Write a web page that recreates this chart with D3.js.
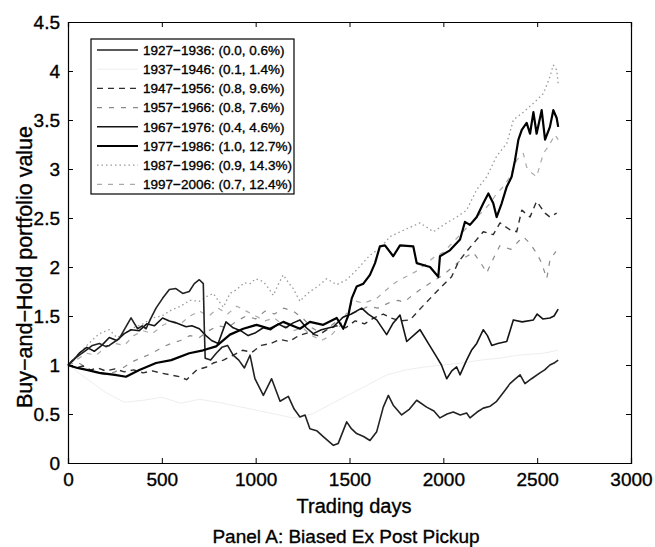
<!DOCTYPE html>
<html><head><meta charset="utf-8">
<script src="https://cdn.jsdelivr.net/npm/d3@7"></script>
<style>
html,body{margin:0;padding:0;background:#fff;}
text{font-family:"Liberation Sans",Arial,Helvetica,sans-serif;fill:#000;stroke:#000;stroke-width:0.35px;}
</style></head>
<body><svg id="c" width="655" height="547"></svg>
<script>
// ---- data (day, portfolio value) ----
const xTicks = [0,500,1000,1500,2000,2500,3000];
const yTicks = [0,0.5,1,1.5,2,2.5,3,3.5,4,4.5];
const yTickLabels = ["0","0.5","1","1.5","2","2.5","3","3.5","4","4.5"];
const legendLabels = [
 "1927\u22121936: (0.0, 0.6%)","1937\u22121946: (0.1, 1.4%)","1947\u22121956: (0.8, 9.6%)",
 "1957\u22121966: (0.8, 7.6%)","1967\u22121976: (0.4, 4.6%)","1977\u22121986: (1.0, 12.7%)",
 "1987\u22121996: (0.9, 14.3%)","1997\u22122006: (0.7, 12.4%)"];

const s1927 = [[0,1.0],[25,1.05],[60,1.10],[96,1.15],[130,1.20],[167,1.22],[200,1.19],[220,1.20],[250,1.24],[273,1.27],[300,1.36],[336,1.48],[355,1.42],[371,1.37],[395,1.40],[416,1.37],[440,1.47],[469,1.58],[504,1.68],[540,1.77],[575,1.78],[611,1.73],[646,1.75],[673,1.83],[700,1.87],[721,1.83],[726,1.40],[731,1.07],[760,1.05],[790,1.12],[820,1.18],[850,1.20],[880,1.10],[910,1.05],[940,0.97],[970,1.10],[996,0.86],[1041,0.69],[1085,0.86],[1130,0.63],[1174,0.68],[1205,0.55],[1236,0.47],[1263,0.49],[1289,0.35],[1325,0.33],[1360,0.27],[1414,0.18],[1440,0.20],[1485,0.42],[1510,0.35],[1538,0.30],[1575,0.27],[1609,0.23],[1645,0.32],[1680,0.57],[1707,0.69],[1733,0.59],[1778,0.49],[1820,0.55],[1858,0.64],[1911,0.57],[1950,0.53],[1982,0.46],[2020,0.50],[2053,0.52],[2090,0.49],[2124,0.51],[2142,0.46],[2180,0.52],[2213,0.56],[2250,0.58],[2284,0.63],[2320,0.72],[2355,0.81],[2385,0.86],[2409,0.90],[2435,0.81],[2470,0.86],[2515,0.92],[2540,0.95],[2568,1.0],[2590,1.02],[2612,1.05]];

const s1937 = [[0,1.0],[100,0.86],[200,0.72],[300,0.62],[400,0.64],[500,0.67],[600,0.61],[700,0.65],[800,0.62],[900,0.58],[1000,0.54],[1100,0.50],[1200,0.46],[1300,0.50],[1400,0.60],[1500,0.70],[1600,0.80],[1700,0.90],[1800,0.95],[1900,0.98],[2000,1.00],[2100,1.02],[2200,1.05],[2300,1.07],[2400,1.10],[2533,1.12],[2612,1.15]];

const s1947 = [[0,1.0],[40,0.97],[80,0.99],[120,0.95],[160,0.97],[200,0.94],[250,0.96],[300,0.93],[350,0.95],[400,0.92],[450,0.94],[490,0.92],[543,0.90],[597,0.88],[632,0.85],[686,0.95],[739,0.98],[774,1.02],[828,1.05],[881,1.10],[930,1.15],[980,1.13],[1030,1.20],[1080,1.22],[1130,1.26],[1180,1.24],[1230,1.30],[1280,1.33],[1330,1.30],[1380,1.36],[1430,1.40],[1480,1.38],[1530,1.45],[1580,1.42],[1630,1.48],[1680,1.52],[1720,1.48],[1770,1.45],[1823,1.46],[1870,1.56],[1930,1.68],[1990,1.80],[2044,1.90],[2080,2.05],[2124,2.16],[2160,2.24],[2213,2.36],[2266,2.33],[2302,2.45],[2355,2.38],[2391,2.36],[2418,2.58],[2462,2.51],[2497,2.67],[2542,2.55],[2568,2.51],[2604,2.55]];

const s1957 = [[0,1.0],[50,1.03],[100,0.97],[150,0.92],[200,0.90],[250,0.93],[300,0.98],[350,1.04],[400,1.08],[450,1.12],[500,1.18],[550,1.22],[600,1.25],[650,1.30],[700,1.28],[750,1.35],[800,1.40],[850,1.38],[900,1.45],[950,1.50],[1000,1.47],[1050,1.55],[1100,1.52],[1150,1.58],[1200,1.55],[1250,1.48],[1300,1.38],[1350,1.32],[1400,1.40],[1450,1.47],[1500,1.52],[1550,1.55],[1600,1.60],[1650,1.58],[1716,1.64],[1760,1.66],[1790,1.64],[1840,1.72],[1900,1.80],[1950,1.86],[2000,1.92],[2050,2.00],[2100,2.08],[2160,2.15],[2213,2.00],[2231,1.94],[2270,2.10],[2302,2.22],[2360,2.18],[2400,2.26],[2426,2.31],[2462,2.24],[2497,2.14],[2524,2.04],[2551,1.88],[2568,2.07],[2600,2.16]];

const s1967 = [[0,1.0],[30,1.05],[60,1.12],[100,1.18],[140,1.14],[180,1.20],[220,1.28],[260,1.25],[300,1.32],[336,1.36],[380,1.35],[420,1.42],[460,1.40],[504,1.48],[540,1.45],[575,1.43],[629,1.39],[660,1.40],[700,1.37],[735,1.30],[765,1.25],[800,1.22],[842,1.44],[880,1.38],[920,1.35],[960,1.30],[1000,1.33],[1040,1.38],[1080,1.36],[1120,1.42],[1160,1.38],[1200,1.43],[1236,1.46],[1270,1.38],[1307,1.32],[1350,1.36],[1414,1.39],[1467,1.49],[1510,1.52],[1565,1.58],[1600,1.52],[1645,1.46],[1698,1.31],[1730,1.42],[1769,1.51],[1805,1.24],[1840,1.30],[1876,1.36],[1920,1.22],[1965,1.08],[1990,1.00],[2018,0.86],[2045,0.94],[2071,0.98],[2089,0.90],[2124,1.05],[2150,1.15],[2178,1.22],[2213,1.36],[2235,1.30],[2258,1.20],[2290,1.22],[2338,1.24],[2373,1.46],[2420,1.44],[2480,1.46],[2500,1.52],[2530,1.47],[2568,1.48],[2590,1.50],[2612,1.57]];

const s1977 = [[0,1.0],[50,0.97],[100,0.95],[167,0.92],[250,0.90],[309,0.88],[380,0.95],[469,1.02],[550,1.05],[646,1.12],[720,1.15],[789,1.19],[863,1.31],[934,1.37],[1005,1.41],[1076,1.37],[1147,1.44],[1236,1.37],[1289,1.44],[1360,1.41],[1432,1.48],[1467,1.37],[1494,1.51],[1512,1.68],[1538,1.80],[1574,1.83],[1609,1.92],[1636,2.04],[1662,2.21],[1689,2.22],[1733,2.11],[1769,2.22],[1840,2.21],[1858,2.04],[1929,2.00],[1973,1.90],[1982,2.11],[2035,2.17],[2089,2.28],[2115,2.46],[2142,2.43],[2178,2.51],[2213,2.65],[2240,2.75],[2266,2.65],[2284,2.51],[2311,2.65],[2338,2.82],[2364,2.92],[2382,3.09],[2400,3.30],[2418,3.40],[2444,3.47],[2462,3.36],[2480,3.58],[2497,3.36],[2524,3.60],[2542,3.30],[2568,3.43],[2586,3.60],[2604,3.52],[2612,3.43]];

const s1987 = [[0,1.0],[40,1.08],[100,1.20],[167,1.32],[220,1.36],[260,1.28],[300,1.32],[350,1.38],[400,1.42],[450,1.48],[500,1.50],[550,1.56],[600,1.60],[650,1.66],[700,1.65],[740,1.70],[774,1.73],[800,1.66],[828,1.59],[863,1.73],[899,1.77],[940,1.84],[970,1.83],[1000,1.88],[1041,1.85],[1070,1.78],[1094,1.71],[1120,1.82],[1147,1.92],[1175,1.84],[1200,1.78],[1236,1.65],[1260,1.70],[1289,1.75],[1330,1.80],[1378,1.88],[1432,1.82],[1485,1.87],[1538,1.97],[1575,2.05],[1609,2.12],[1662,2.19],[1716,2.31],[1760,2.35],[1805,2.39],[1876,2.45],[1947,2.36],[2018,2.45],[2071,2.51],[2124,2.58],[2178,2.79],[2231,2.92],[2284,3.13],[2338,3.26],[2373,3.50],[2426,3.58],[2480,3.67],[2533,3.77],[2568,3.94],[2586,4.06],[2604,4.01],[2612,3.87]];

const s1997 = [[0,1.0],[50,1.06],[100,1.12],[150,1.10],[200,1.18],[250,1.22],[300,1.20],[350,1.30],[400,1.35],[450,1.32],[500,1.40],[550,1.45],[600,1.42],[650,1.50],[700,1.55],[750,1.50],[800,1.58],[850,1.52],[900,1.60],[950,1.55],[1000,1.50],[1050,1.45],[1100,1.48],[1150,1.40],[1200,1.35],[1250,1.38],[1300,1.30],[1350,1.25],[1400,1.30],[1450,1.40],[1520,1.66],[1574,1.63],[1645,1.68],[1716,1.80],[1751,1.85],[1800,1.90],[1850,1.95],[1900,2.02],[1950,2.10],[2000,2.15],[2050,2.25],[2100,2.35],[2150,2.45],[2200,2.55],[2250,2.65],[2284,2.75],[2320,2.82],[2355,2.92],[2391,3.09],[2426,3.16],[2444,3.02],[2471,2.96],[2497,2.92],[2533,3.16],[2560,3.23],[2595,3.35],[2612,3.30]];

const seriesData = [s1927,s1937,s1947,s1957,s1967,s1977,s1987,s1997];

// ---- styles ----
const styles = [
 {c:"#222222", w:1.6, d:null},
 {c:"#eeeeee", w:1.0, d:null},
 {c:"#2e2e2e", w:1.4, d:"6,5"},
 {c:"#8a8a8a", w:1.2, d:"5,7"},
 {c:"#151515", w:1.6, d:null},
 {c:"#000000", w:2.2, d:null},
 {c:"#9a9a9a", w:1.3, d:"1.5,3"},
 {c:"#aaaaaa", w:1.2, d:"5,6"}
];

const svg = d3.select("#c");
svg.append("rect").attr("width",655).attr("height",547).attr("fill","#fff");
const L=68, R=631, T=22, B=463;
const x = d3.scaleLinear().domain([0,3000]).range([L,R]);
const y = d3.scaleLinear().domain([0,4.5]).range([B,T]);

const line = d3.line().x(d=>x(d[0])).y(d=>y(d[1]));
const order = [1,7,3,6,2,4,0,5];
const g = svg.append("g");
order.forEach(i=>{
  g.append("path").datum(seriesData[i]).attr("d",line)
   .attr("fill","none").attr("stroke",styles[i].c).attr("stroke-width",styles[i].w)
   .attr("stroke-dasharray",styles[i].d).attr("stroke-linejoin","round");
});

// axes (box with inward ticks)
const fs = 19;
const ax = d3.axisBottom(x).tickValues(xTicks).tickSize(-5).tickPadding(10).tickFormat(d3.format("d"));
svg.append("g").attr("transform",`translate(0,${B})`).call(ax);
const axT = d3.axisTop(x).tickValues(xTicks).tickSize(-5).tickFormat("");
svg.append("g").attr("transform",`translate(0,${T})`).call(axT);
const ay = d3.axisLeft(y).tickValues(yTicks).tickSize(-5).tickPadding(8).tickFormat((d,i)=>yTickLabels[i]);
svg.append("g").attr("transform",`translate(${L},0)`).call(ay);
const ayR = d3.axisRight(y).tickValues(yTicks).tickSize(-5).tickFormat("");
svg.append("g").attr("transform",`translate(${R},0)`).call(ayR);
svg.selectAll(".domain").attr("stroke","#000").attr("stroke-width",1.2);
svg.selectAll(".tick line").attr("stroke","#000");
svg.selectAll(".tick text").style("font-size",fs+"px").style("font-family",'"Liberation Sans",Arial,sans-serif').attr("fill","#000");

svg.append("text").attr("x",354).attr("y",513).attr("text-anchor","middle").style("font-size","20px").text("Trading days");
svg.append("text").attr("x",346).attr("y",543).attr("text-anchor","middle").style("font-size","19px").text("Panel A: Biased Ex Post Pickup");
svg.append("text").attr("transform",`translate(32,${y(2.0)}) rotate(-90)`).attr("text-anchor","middle").style("font-size","21.5px").text("Buy\u2212and\u2212Hold portfolio value");

// legend
const lg = svg.append("g");
lg.append("rect").attr("x",91).attr("y",39).attr("width",203).attr("height",155).attr("fill","#fff").attr("stroke","#000").attr("stroke-width",1.2);
legendLabels.forEach((lab,i)=>{
  const yy = 50 + i*19.2;
  lg.append("line").attr("x1",97).attr("x2",138).attr("y1",yy).attr("y2",yy)
    .attr("stroke",styles[i].c).attr("stroke-width",styles[i].w).attr("stroke-dasharray",styles[i].d);
  lg.append("text").attr("x",143).attr("y",yy).attr("dy","0.36em").style("font-size","13.5px").text(lab);
});
</script></body></html>
